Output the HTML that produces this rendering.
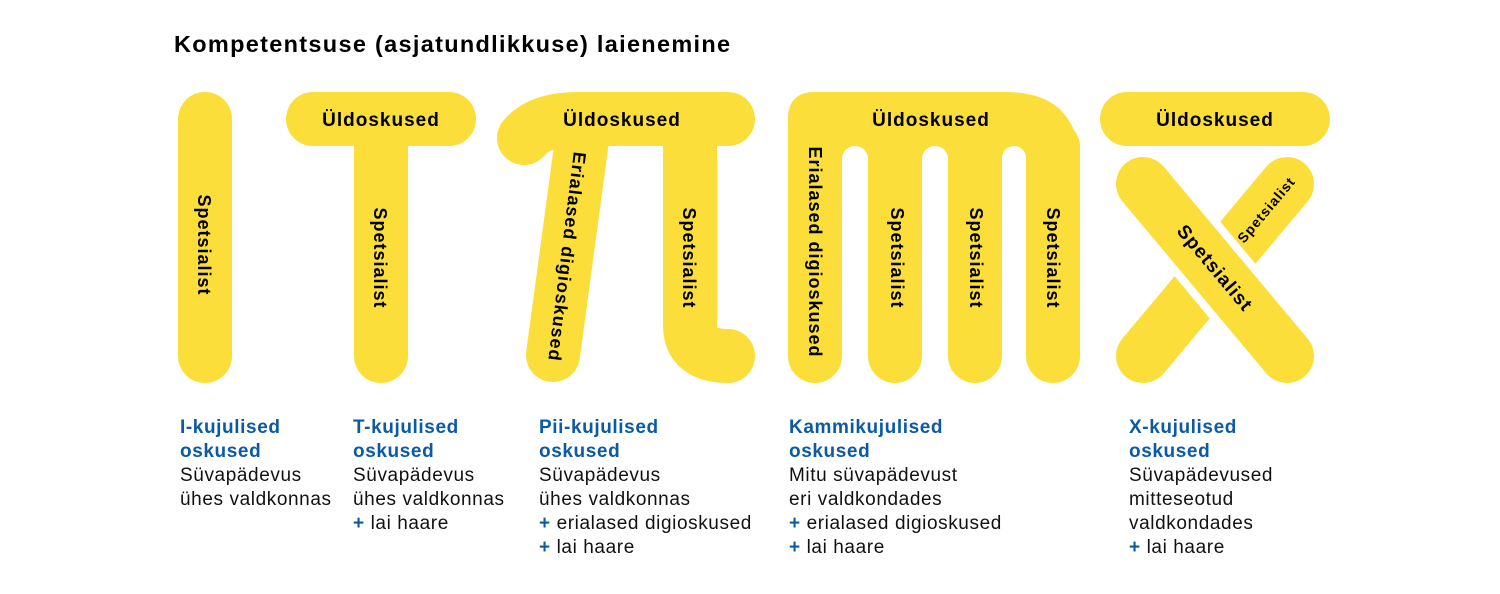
<!DOCTYPE html>
<html><head><meta charset="utf-8"><style>
body{margin:0;width:1500px;height:594px;background:#fff;overflow:hidden;font-family:"Liberation Sans",sans-serif}
.col{position:absolute;top:416px;font-size:19px;line-height:24px;color:#111;letter-spacing:0.6px;white-space:nowrap}
.col b{color:#0b5aa6}
.p{color:#0b5aa6;font-weight:bold}
</style></head><body>
<svg width="1500" height="594" style="position:absolute;left:0;top:0" font-family="Liberation Sans" font-weight="bold">
<text x="174" y="52" font-size="23.5" fill="#000" letter-spacing="1.3">Kompetentsuse (asjatundlikkuse) laienemine</text>
<g fill="#fcde3b" stroke="none">
<rect x="178" y="92" width="54" height="291" rx="27"/>
<rect x="286" y="92" width="190" height="54" rx="27"/>
<rect x="354" y="110" width="54" height="273" rx="27"/>
</g>
<g fill="none" stroke="#fcde3b" stroke-width="54" stroke-linecap="round" stroke-linejoin="round">
<path d="M728,119 L578,119 Q540,119 524,138"/>
<path d="M584,125 L553,355"/>
<path d="M690,125 L690,325 Q690,356 728,356"/>
</g>
<g fill="#fcde3b">
<path d="M815,92 L1005,92 Q1080,92 1080,167 L1080,200 L788,200 L788,119 Q788,92 815,92Z"/>
<rect x="788" y="120" width="54" height="263" rx="27"/>
<rect x="868" y="120" width="54" height="263" rx="27"/>
<rect x="948" y="120" width="54" height="263" rx="27"/>
<rect x="1026" y="120" width="54" height="263" rx="27"/>
</g>
<g fill="#fff">
<rect x="842" y="146" width="26" height="260" rx="13"/>
<rect x="922" y="146" width="26" height="260" rx="13"/>
<rect x="1002" y="146" width="24" height="260" rx="12"/>
</g>
<rect x="1100" y="92" width="230" height="54" rx="27" fill="#fcde3b"/>
<g fill="none" stroke-linecap="round">
<line x1="1287" y1="184" x2="1143" y2="356" stroke="#fcde3b" stroke-width="54"/>
<line x1="1185" y1="234" x2="1245" y2="306" stroke="#fff" stroke-width="70" stroke-linecap="butt"/>
<line x1="1143" y1="184" x2="1287" y2="356" stroke="#fcde3b" stroke-width="54"/>
</g>
<g fill="#000" font-size="19" text-anchor="middle" letter-spacing="1">
<text x="381" y="126">Üldoskused</text>
<text x="622" y="126">Üldoskused</text>
<text x="931" y="126">Üldoskused</text>
<text x="1215" y="126">Üldoskused</text>
<text transform="translate(198,245) rotate(90)" font-size="18">Spetsialist</text>
<text transform="translate(374,258) rotate(90)" font-size="18">Spetsialist</text>
<text transform="translate(683,258) rotate(90)" font-size="18">Spetsialist</text>
<text transform="translate(891,258) rotate(90)" font-size="18">Spetsialist</text>
<text transform="translate(970,258) rotate(90)" font-size="18">Spetsialist</text>
<text transform="translate(1047,258) rotate(90)" font-size="18">Spetsialist</text>
<text transform="translate(561,256) rotate(97)" font-size="18">Erialased digioskused</text>
<text transform="translate(809,252) rotate(90)" font-size="18">Erialased digioskused</text>
<text transform="translate(1210,272) rotate(50)" font-size="19">Spetsialist</text>
<text transform="translate(1270,213) rotate(-50)" font-size="14">Spetsialist</text>
</g>
</svg>
<div class="col" style="left:180px"><b>I-kujulised<br>oskused</b><br>Süvapädevus<br>ühes valdkonnas</div>
<div class="col" style="left:353px"><b>T-kujulised<br>oskused</b><br>Süvapädevus<br>ühes valdkonnas<br><span class="p">+</span> lai haare</div>
<div class="col" style="left:539px"><b>Pii-kujulised<br>oskused</b><br>Süvapädevus<br>ühes valdkonnas<br><span class="p">+</span> erialased digioskused<br><span class="p">+</span> lai haare</div>
<div class="col" style="left:789px"><b>Kammikujulised<br>oskused</b><br>Mitu süvapädevust<br>eri valdkondades<br><span class="p">+</span> erialased digioskused<br><span class="p">+</span> lai haare</div>
<div class="col" style="left:1129px"><b>X-kujulised<br>oskused</b><br>Süvapädevused<br>mitteseotud<br>valdkondades<br><span class="p">+</span> lai haare</div>
</body></html>
